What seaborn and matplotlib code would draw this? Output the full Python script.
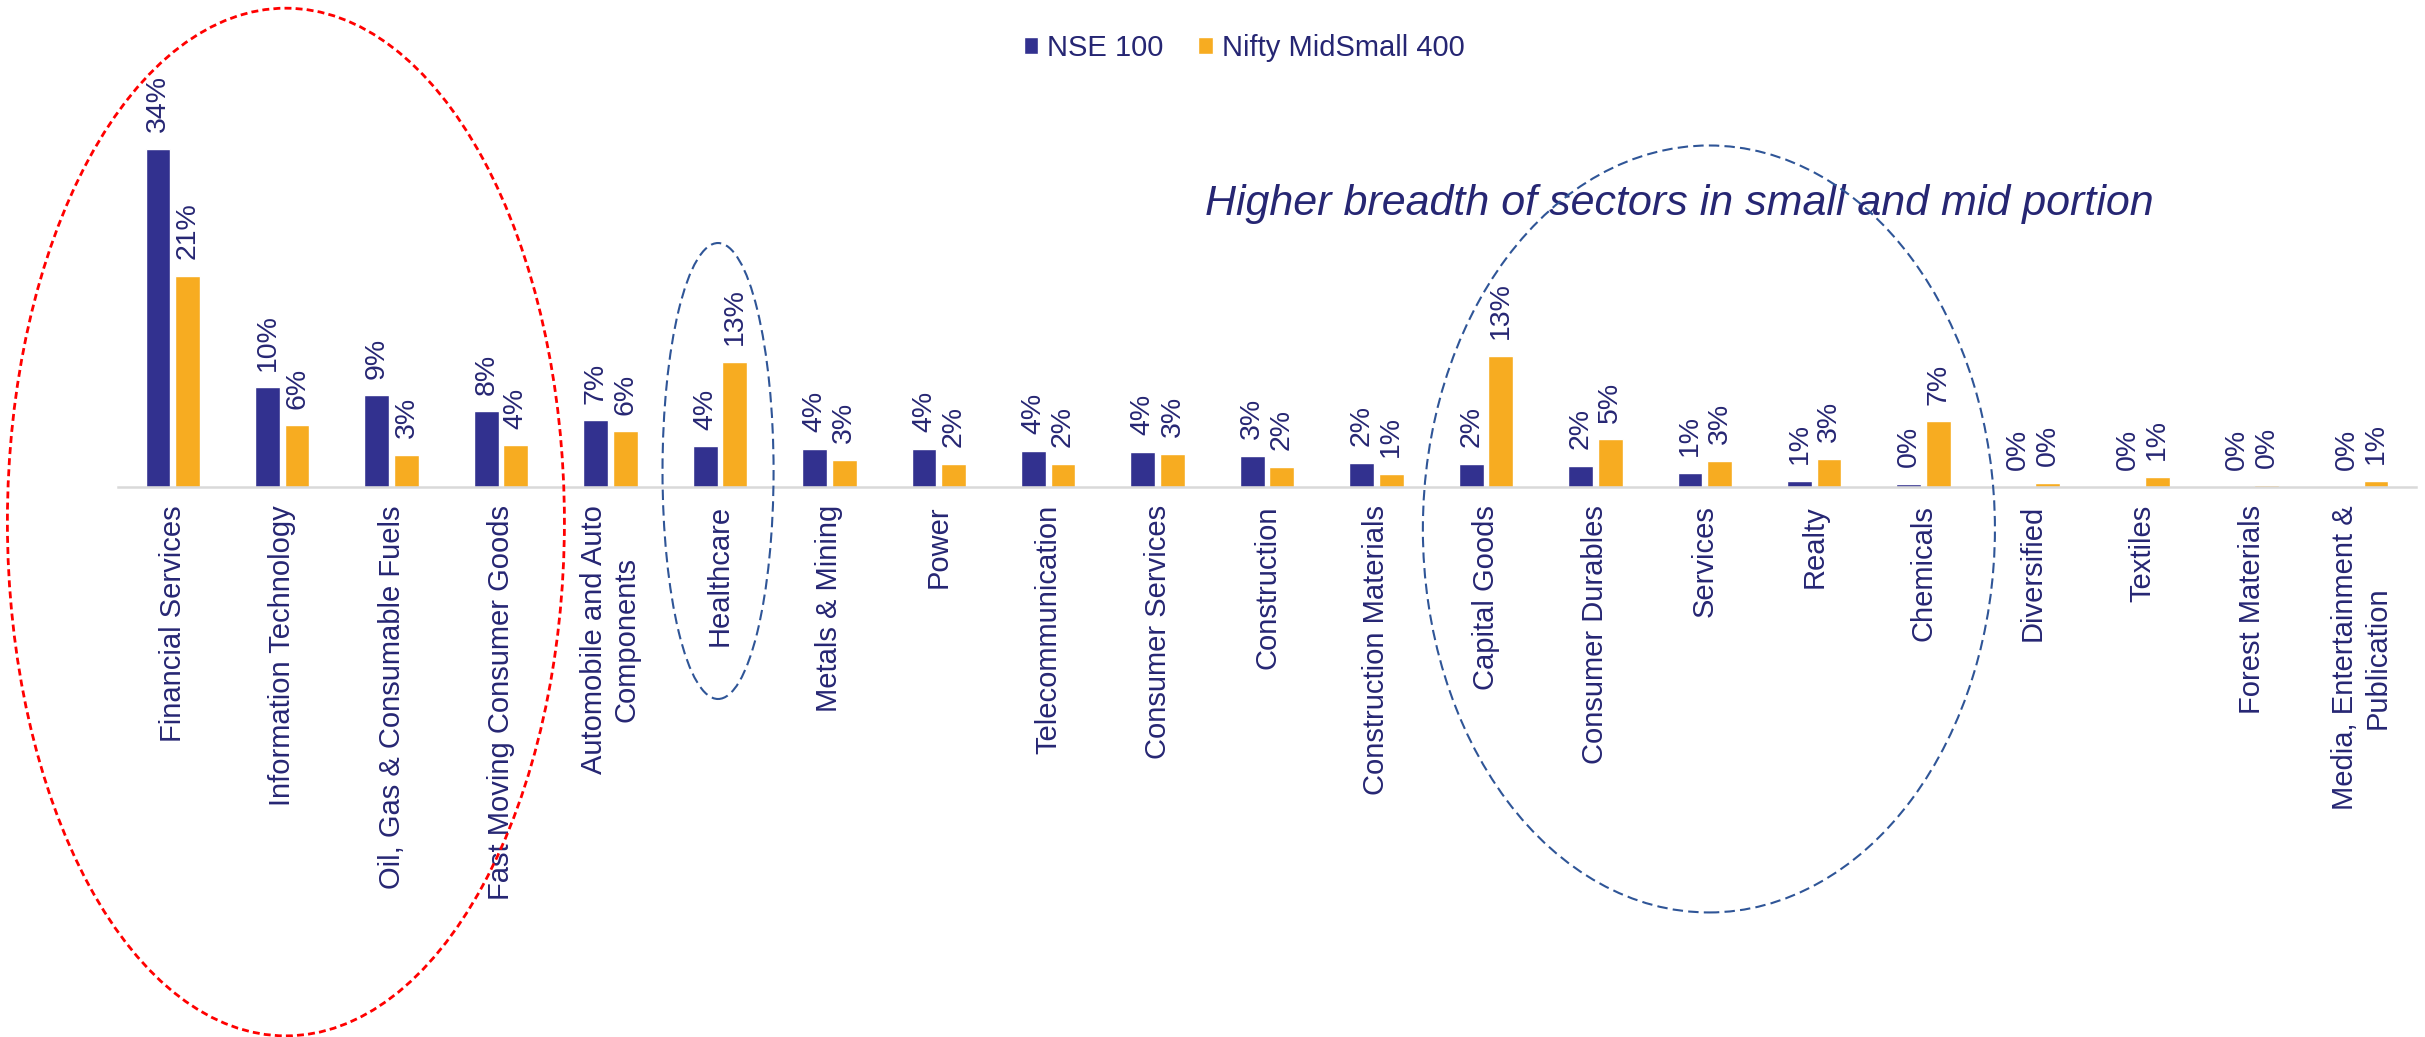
import matplotlib
matplotlib.use("Agg")
import matplotlib.pyplot as plt
from matplotlib.patches import Ellipse
import pandas as pd
import seaborn as sns

# Sector weights (%) of the two indices
sectors = [
    "Financial Services", "Information Technology", "Oil, Gas & Consumable Fuels",
    "Fast Moving Consumer Goods", "Automobile and Auto\nComponents", "Healthcare",
    "Metals & Mining", "Power", "Telecommunication", "Consumer Services",
    "Construction", "Construction Materials", "Capital Goods", "Consumer Durables",
    "Services", "Realty", "Chemicals", "Diversified", "Textiles", "Forest Materials",
    "Media, Entertainment &\nPublication",
]
nse100 = [34.0, 10.0, 9.2, 7.6, 6.7, 4.1, 3.85, 3.8, 3.6, 3.55, 3.1, 2.4, 2.3, 2.1,
          1.4, 0.6, 0.33, 0.0, 0.0, 0.0, 0.0]
midsmall400 = [21.2, 6.2, 3.2, 4.2, 5.6, 12.6, 2.7, 2.3, 2.3, 3.3, 2.0, 1.3, 13.2, 4.8,
               2.6, 2.8, 6.6, 0.4, 1.0, 0.2, 0.6]
series_names = ["NSE 100", "Nifty MidSmall 400"]

NAVY = "#32318F"
ORANGE = "#F7AC21"
TEXT = "#262673"

df = pd.DataFrame({
    "sector": sectors * 2,
    "weight": nse100 + midsmall400,
    "index": [series_names[0]] * len(sectors) + [series_names[1]] * len(sectors),
})

sns.set_style("white")
plt.rcParams["font.family"] = ["Liberation Sans", "DejaVu Sans"]

fig = plt.figure(figsize=(24.25, 10.37), dpi=100)
ax = fig.add_axes([0.0487, 0.5304, 0.9476, 0.3839])

sns.barplot(data=df, x="sector", y="weight", hue="index", hue_order=series_names,
            palette=[NAVY, ORANGE], width=0.54, gap=0.16, saturation=1,
            ax=ax, legend=True)

ax.set_xlim(-0.5, len(sectors) - 0.5)
ax.set_ylim(0, 40)

# value labels above each bar
for cont, vals in zip(ax.containers, [nse100, midsmall400]):
    ax.bar_label(cont, labels=[f"{v:.0f}%" for v in vals], rotation=90,
                 padding=12, fontsize=20.5, color=TEXT)

# axes styling
for side in ["top", "right", "left"]:
    ax.spines[side].set_visible(False)
ax.spines["bottom"].set_color("#D9D9D9")
ax.spines["bottom"].set_linewidth(1.8)
ax.set_yticks([])
ax.set_xlabel("")
ax.set_ylabel("")
ax.tick_params(axis="x", length=0, pad=13)
for t in ax.get_xticklabels():
    t.set_rotation(90)
    t.set_ha("center")
    t.set_va("top")
    t.set_multialignment("center")
    t.set_fontsize(21)
    t.set_color(TEXT)

sns.move_legend(ax, "center", bbox_to_anchor=(0.513, 0.954),
                bbox_transform=fig.transFigure, ncol=2, frameon=False, title=None,
                fontsize=21, handlelength=0.5, handleheight=0.5,
                handletextpad=0.3, columnspacing=1.2, labelcolor=TEXT)

fig.text(0.497, 0.803, "Higher breadth of sectors in small and mid portion",
         fontsize=31, style="italic", color=TEXT, ha="left", va="center")

# highlight rings
rings = [
    ((0.1179, 0.4966), 0.2297, 0.991, "#FF0000", 2.0, (2.5, 1.5)),
    ((0.2961, 0.5458), 0.0458, 0.4397, "#2F5597", 1.5, (5, 2.5)),
    ((0.7047, 0.4899), 0.2359, 0.7396, "#2F5597", 1.5, (5, 2.5)),
]
for center, w, h, col, lw, dash in rings:
    fig.add_artist(Ellipse(center, w, h, transform=fig.transFigure, fill=False,
                           edgecolor=col, linewidth=lw, linestyle=(0, dash),
                           zorder=10))

fig.savefig("out.png", dpi=100)
